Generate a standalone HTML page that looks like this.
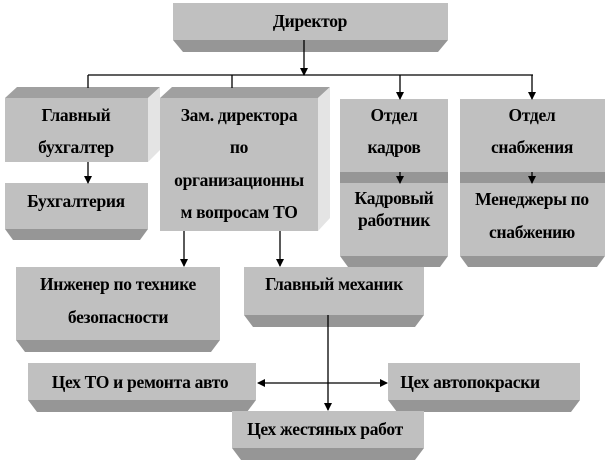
<!DOCTYPE html>
<html><head><meta charset="utf-8"><style>
html,body{margin:0;padding:0;background:#fff;width:607px;height:462px;overflow:hidden}
svg text{font-family:"Liberation Serif","DejaVu Serif","Times New Roman",serif;font-weight:bold;font-size:17.5px;fill:#000;text-anchor:middle;letter-spacing:-0.3px}
</style></head><body>
<svg width="607" height="462" viewBox="0 0 607 462" xmlns="http://www.w3.org/2000/svg">
<defs><marker id="a" markerWidth="8" markerHeight="8" refX="7" refY="4" orient="auto" markerUnits="userSpaceOnUse"><path d="M0,0 L8,4 L0,8 z" fill="#000"/></marker></defs>
<g stroke="none">
<rect x="173" y="3" width="275" height="37" fill="#c0c0c0"/>
<polygon points="173,40 448,40 438,52 183,52" fill="#969696"/>
<polygon points="5,98 17,87 160,87 148,98" fill="#a0a0a0"/>
<polygon points="148,98 160,87 160,150 148,162" fill="#e4e4e4"/>
<rect x="5" y="98" width="143" height="64" fill="#c0c0c0"/>
<rect x="5" y="183" width="143" height="46" fill="#c0c0c0"/>
<polygon points="5,229 148,229 140,240 13,240" fill="#969696"/>
<polygon points="160,98 172,87 330,87 318,98" fill="#a0a0a0"/>
<polygon points="318,98 330,87 330,218 318,231" fill="#e4e4e4"/>
<rect x="160" y="98" width="158" height="133" fill="#c0c0c0"/>
<rect x="340" y="99" width="108" height="73" fill="#c0c0c0"/>
<polygon points="340,172 448,172 448,183 340,183" fill="#969696"/>
<rect x="340" y="183" width="108" height="73" fill="#c0c0c0"/>
<polygon points="340,256 448,256 440,267 348,267" fill="#969696"/>
<rect x="460" y="99" width="145" height="73" fill="#c0c0c0"/>
<polygon points="460,172 605,172 605,183 460,183" fill="#969696"/>
<rect x="460" y="183" width="145" height="73" fill="#c0c0c0"/>
<polygon points="460,256 605,256 597,267 468,267" fill="#969696"/>
<rect x="16" y="267" width="204" height="73" fill="#c0c0c0"/>
<polygon points="16,340 220,340 211,352 25,352" fill="#969696"/>
<rect x="244" y="267" width="180" height="48" fill="#c0c0c0"/>
<polygon points="244,315 424,315 415,327 253,327" fill="#969696"/>
<rect x="28" y="363" width="228" height="37" fill="#c0c0c0"/>
<polygon points="28,400 256,400 247,412 37,412" fill="#969696"/>
<rect x="388" y="363" width="192" height="37" fill="#c0c0c0"/>
<polygon points="388,400 580,400 571,412 397,412" fill="#969696"/>
<rect x="232" y="411" width="192" height="37" fill="#c0c0c0"/>
<polygon points="232,448 424,448 415,460 241,460" fill="#969696"/>
</g>
<g stroke="#000" stroke-width="1.3" fill="none">
<line x1="304" y1="40" x2="304" y2="75" marker-end="url(#a)"/>
<line x1="88" y1="75" x2="533" y2="75"/>
<line x1="88" y1="75" x2="88" y2="88"/>
<line x1="232" y1="75" x2="232" y2="88"/>
<line x1="400" y1="75" x2="400" y2="99" marker-end="url(#a)"/>
<line x1="532" y1="75" x2="532" y2="99" marker-end="url(#a)"/>
<line x1="88" y1="162" x2="88" y2="183" marker-end="url(#a)"/>
<line x1="400" y1="172" x2="400" y2="183" marker-end="url(#a)"/>
<line x1="532" y1="172" x2="532" y2="183" marker-end="url(#a)"/>
<line x1="184" y1="231" x2="184" y2="266" marker-end="url(#a)"/>
<line x1="280" y1="231" x2="280" y2="266" marker-end="url(#a)"/>
<line x1="328" y1="315" x2="328" y2="410" marker-end="url(#a)"/>
<line x1="328" y1="383" x2="258" y2="383" marker-end="url(#a)"/>
<line x1="328" y1="383" x2="387" y2="383" marker-end="url(#a)"/>
</g>
<g font-family="Liberation Serif, DejaVu Serif, serif" font-weight="bold">
<text x="310" y="27">Директор</text>
<text x="76" y="121">Главный</text>
<text x="76" y="153">бухгалтер</text>
<text x="76" y="207">Бухгалтерия</text>
<text x="239" y="121">Зам. директора</text>
<text x="239" y="153">по</text>
<text x="239" y="186">организационны</text>
<text x="239" y="218">м вопросам ТО</text>
<text x="394" y="121">Отдел</text>
<text x="394" y="153">кадров</text>
<text x="394" y="204">Кадровый</text>
<text x="394" y="226">работник</text>
<text x="532" y="121">Отдел</text>
<text x="532" y="153">снабжения</text>
<text x="532" y="205">Менеджеры по</text>
<text x="532" y="238">снабжению</text>
<text x="118" y="290">Инженер по технике</text>
<text x="118" y="323">безопасности</text>
<text x="334" y="290">Главный механик</text>
<text x="140" y="388">Цех ТО и ремонта авто</text>
<text x="470" y="388">Цех автопокраски</text>
<text x="325" y="435">Цех жестяных работ</text>
</g>
</svg>
</body></html>
